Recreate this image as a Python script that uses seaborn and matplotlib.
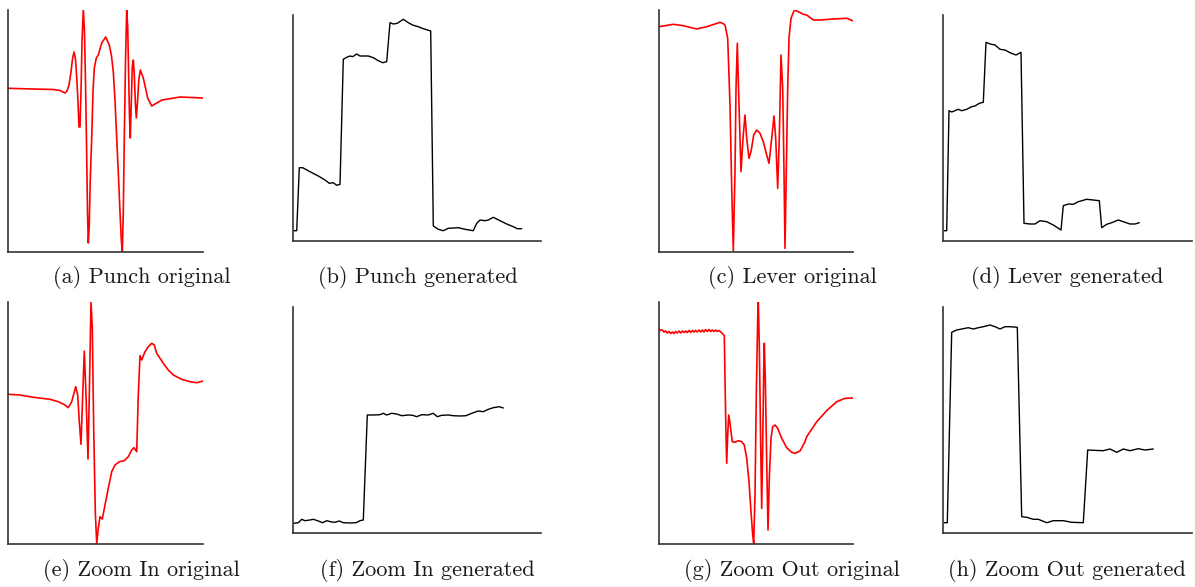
import matplotlib
matplotlib.use("Agg")
import matplotlib.pyplot as plt
import seaborn as sns
import pandas as pd

sns.set_style("white")

# ---------------- data (axis-relative units) ----------------
punch_orig_x = [0, 25, 45, 52, 55, 57, 59, 61, 63, 64.5, 66, 67.5, 69, 70, 71, 72, 73, 74, 75.3,
                76.5, 77.5, 78.5, 79.5, 80.3, 81.2, 82.2, 83.7, 85, 86.3, 88.3, 90.3, 93.7, 97.7,
                101.3, 103.5, 105.3, 107, 108.7, 110.5, 112, 113.3, 114.3, 115.3, 116.3, 117.5,
                118.7, 119.7, 120.6, 121.5, 122.3, 123.3, 124.3, 125.3, 126.3, 127.3, 128.3, 129.5,
                130.8, 132.3, 135.3, 139.7, 143.7, 148.7, 154, 172, 195]
punch_orig_y = [163.7, 163, 162.5, 161.5, 160, 159, 161, 167, 180, 193, 200, 193, 170, 150, 125,
                125, 160, 210, 243,
                220, 170, 110, 40, 9, 25, 70, 114, 160, 184, 194, 197, 209, 215,
                207, 196, 180, 152, 114, 75, 40, 12, 0, 40, 114, 190,
                242, 225, 180, 135, 114, 150, 185, 192, 178, 150, 134, 150,
                172, 182, 174, 154, 146, 149, 152, 155, 154]

punch_gen_x = [1, 3.7, 6.3, 9.7, 17, 25.3, 32, 36.3, 40.3, 43.7, 47, 50.3, 53.7, 57, 59.7, 63.7, 67,
               75.3, 80.3, 85.3, 89.7, 93.7, 97, 100.3, 104.3, 110.3, 115.3, 120.3, 125.3, 130.3,
               137.7, 140.3, 145.3, 150.3, 155.3, 165.3, 172, 180.3, 183.7, 187, 192, 195.3, 200.3,
               207, 213.7, 220.3, 224.3, 228.7]
punch_gen_y = [10.3, 10.3, 73.3, 73.3, 69.3, 65, 61, 57.7, 58.3, 55.7, 56.7, 181.7, 183.7, 185, 184.3,
               187, 185, 185, 183.3, 180.3, 178.3, 179.3, 218.3, 217, 217.7, 221.7, 218.3, 215.7,
               214.3, 212.3, 210, 15, 11.7, 10.3, 12.7, 13.3, 11.7, 10.3, 17.7, 21, 20.3, 21, 23.7,
               20.3, 17, 14.3, 12.3, 12.3]

lever_orig_x = [0, 14.3, 24.3, 37.7, 47.7, 56, 61, 64.3, 66, 68.7, 71, 72.7, 74.3, 76, 77, 78.3, 80,
                82, 84, 86, 87.7, 90, 92, 94.7, 97.7, 101, 104.3, 107.7, 110, 112.7, 115, 116.7,
                118.7, 120.3, 122, 123.7, 125, 126, 127.3, 128.7, 130, 132, 135.3, 139.3, 144.3,
                147.7, 154.3, 161, 174.3, 187.7, 194.3]
lever_orig_y = [225.3, 227.7, 226.3, 223, 225.3, 228, 229.7, 228.3, 227, 213.7, 147, 64, 1, 80.3,
                163.7, 208.7, 147, 80.3, 113.7, 137, 113.7, 93.7, 100.3, 117, 122, 118.7, 110.3, 97,
                88.7, 113.7, 136, 113.7, 63.7, 113.7, 197, 163.7, 80.3, 3.7, 80.3, 163.7, 213.7,
                233.7, 242, 240.3, 237.7, 237, 232, 232, 233, 233.7, 231]

lever_gen_x = [1, 3.7, 6, 8.7, 12, 15.3, 18.7, 23.7, 28.7, 32, 36.3, 40.3, 43, 47, 52, 57, 62, 67,
               73, 78, 81, 87, 92, 97, 103.7, 110.3, 118, 120.3, 125.3, 130.3, 135.3, 143.7, 150.3,
               156.3, 158.7, 163.7, 168.7, 175.3, 180.3, 187, 192, 196.3]
lever_gen_y = [10.3, 10.3, 130.3, 129, 130.3, 131.7, 130.3, 131.7, 134.3, 135, 137.7, 138.7, 198.7,
               197, 196, 191.7, 191, 188.3, 186, 188.7, 17.7, 17, 17, 20.3, 19.3, 16, 11, 35.3, 37,
               36.7, 39.3, 41.7, 41, 40.3, 13.3, 16.7, 18.3, 21, 19.3, 17, 17, 18.3]

zoomin_orig_x = [0.3, 12, 25.3, 42, 50.3, 57, 60.3, 63.7, 67.7, 69.7, 71.3, 73, 74.7, 76.3, 78, 80,
                 81.3, 83, 84.3, 85.7, 87.3, 88.7, 90.3, 92, 94.3, 97, 100.3, 103.7, 107, 111.3,
                 116.3, 120.3, 123.7, 126, 128.7, 130.3, 132, 133.7, 137, 140.3, 143.7, 146.3, 148.7,
                 152, 155.3, 160.3, 165.3, 173.7, 182, 188.7, 195.3]
zoomin_orig_y = [149.7, 149, 146.7, 144.7, 142.3, 139, 136.3, 142.3, 157.3, 149, 122.3, 99.7, 149,
                 193, 149, 85, 149, 242.3, 215.7, 115.7, 32.3, 0.7, 15.7, 27.3, 25, 39, 55.7, 72.3,
                 79, 82.3, 83.3, 87.3, 94, 96.3, 92.3, 149, 188.3, 184, 192.3, 197.3, 200.7, 199,
                 190.7, 185.7, 180.7, 174, 169, 164.7, 162.3, 161.3, 163]

zoomin_gen_x = [1, 5.3, 8.7, 12, 17, 20.3, 25.3, 29.7, 33.7, 38.7, 42, 46.3, 50.3, 57, 63, 67, 70.3,
                74.3, 80.3, 87, 90.3, 93.7, 98.7, 103.7, 108.7, 115.3, 119.7, 123.7, 128.7, 135.3,
                140.3, 144.3, 148.7, 155.3, 160.3, 167, 173, 178.7, 185.3, 190.3, 195.3, 200.3,
                206.3, 210.3]
zoomin_gen_y = [9.7, 10.3, 13.7, 12.3, 13, 13.7, 12, 10.3, 12.3, 11, 10.7, 12, 10.3, 10, 10.3, 12.3,
                13, 118, 118, 118.3, 119.7, 118, 119.7, 119, 117.3, 118, 117.7, 116.3, 118.3, 118,
                119.7, 116.3, 117.7, 118, 117.3, 117, 117.3, 119.7, 122, 121.3, 123.7, 125.3,
                126.3, 125]

zoomout_orig_x = [0, 1.7, 3.3, 5, 6.7, 8.3, 10, 11.7, 13.3, 15, 16.7, 18.3, 20, 21.7, 23.3, 25, 26.7,
                  28.3, 30, 31.7, 33.3, 35, 36.7, 38.3, 40, 41.7, 43.3, 45, 46.7, 48.3, 50, 51.7,
                  53.3, 55, 56.7, 58.3, 60, 61.7, 63, 65.3, 66, 67, 67.7, 68.7, 69.7, 71, 73.3, 76,
                  79.3, 82.7, 85.3, 87.7, 90, 92, 93.7, 94.7, 96, 97.3, 98.7, 99.3, 100.3, 101.7,
                  102.7, 103.7, 104.7, 105.3, 106.3, 107.7, 109, 110.3, 112, 113.7, 116, 118.7,
                  122.7, 127.7, 132.7, 136, 141, 146, 147.7, 157.7, 167.7, 177.7, 186, 194.3]
zoomout_orig_y = [215, 213.5, 214, 212, 213, 211, 212.5, 210.5, 212, 210.5, 212.5, 211, 213, 211, 213,
                  211.5, 213, 211.5, 213.5, 211.5, 213.5, 212, 213.5, 212, 214, 212, 214, 212, 214.5,
                  212.5, 214.5, 212.5, 214, 212.5, 214, 212.5, 213.5, 212, 211, 208.3, 165.7, 109,
                  80.7, 109, 129, 120.7, 102.3, 101.7, 103.3, 102.3, 99, 85.7, 62.3, 32.3, 9, 0.7,
                  49, 149, 225.7, 242.3, 199, 99, 35.7, 99, 172.3, 200.7, 165.7, 82.3, 14, 65.7,
                  105.7, 117.3, 119, 115.7, 105.7, 96.3, 91.7, 90.7, 93, 102.3, 107.3, 122.3, 133.3,
                  142.3, 145.7, 146]

zoomout_gen_x = [1, 4.3, 8.7, 13.7, 18.7, 25.3, 30.3, 35.3, 40.3, 47, 52, 57, 62, 67, 74.3, 78.7,
                 83.7, 90.3, 95.3, 103.7, 110.3, 120.3, 128.7, 140.3, 144.7, 150.3, 160.3, 167,
                 173.7, 180.3, 187, 195.3, 202, 210.3]
zoomout_gen_y = [10.3, 10.3, 200.7, 203, 204, 205.3, 204, 205.3, 206.3, 208, 206.3, 204, 206.3,
                 206.3, 205.7, 16.3, 15.7, 13.7, 13.7, 10.3, 12.3, 12.3, 10.7, 10.3, 83, 82.7, 82.3,
                 84, 80.7, 84, 82.3, 84.3, 83, 84]

captions = ["(a) Punch original", "(b) Punch generated", "(c) Lever original", "(d) Lever generated",
            "(e) Zoom In original", "(f) Zoom In generated", "(g) Zoom Out original",
            "(h) Zoom Out generated"]

# ---------------- layout ----------------
W, H = 1195, 587
fig = plt.figure(figsize=(W / 100, H / 100), dpi=100)

# (left, top, right, bottom) pixel frames of each panel
frames = [(8, 10, 203, 252), (293, 15, 541, 241), (659, 10, 853, 252), (943, 15, 1192, 241),
          (8, 302, 203, 544), (293, 307, 541, 533), (659, 302, 853, 544), (943, 307, 1192, 533)]
series = [(punch_orig_x, punch_orig_y, "red"), (punch_gen_x, punch_gen_y, "black"),
          (lever_orig_x, lever_orig_y, "red"), (lever_gen_x, lever_gen_y, "black"),
          (zoomin_orig_x, zoomin_orig_y, "red"), (zoomin_gen_x, zoomin_gen_y, "black"),
          (zoomout_orig_x, zoomout_orig_y, "red"), (zoomout_gen_x, zoomout_gen_y, "black")]
cap_pos = [(142, 278), (418, 278), (792, 278), (1067, 278),
           (141, 571), (427, 571), (792, 571), (1067, 571)]

for (l, t, r, b), (xs, ys, col), cap, (cx, cy) in zip(frames, series, captions, cap_pos):
    ax = fig.add_axes([l / W, 1 - b / H, (r - l) / W, (b - t) / H])
    df = pd.DataFrame({"x": xs, "y": ys})
    sns.lineplot(data=df, x="x", y="y", ax=ax, color=col, sort=False, estimator=None,
                 linewidth=1.2 if col == "red" else 1.0)
    ax.set_xlim(0, r - l)
    ax.set_ylim(0, b - t)
    ax.set_xticks([])
    ax.set_yticks([])
    ax.set_xlabel("")
    ax.set_ylabel("")
    sns.despine(ax=ax)
    for s in ("left", "bottom"):
        ax.spines[s].set_color("#333333")
        ax.spines[s].set_linewidth(1.2)
    fig.text(cx / W, 1 - cy / H, cap, ha="center", va="center", fontfamily="cmr10",
             fontsize=16, color="#1a1a1a")

fig.savefig("out.png", dpi=100)
